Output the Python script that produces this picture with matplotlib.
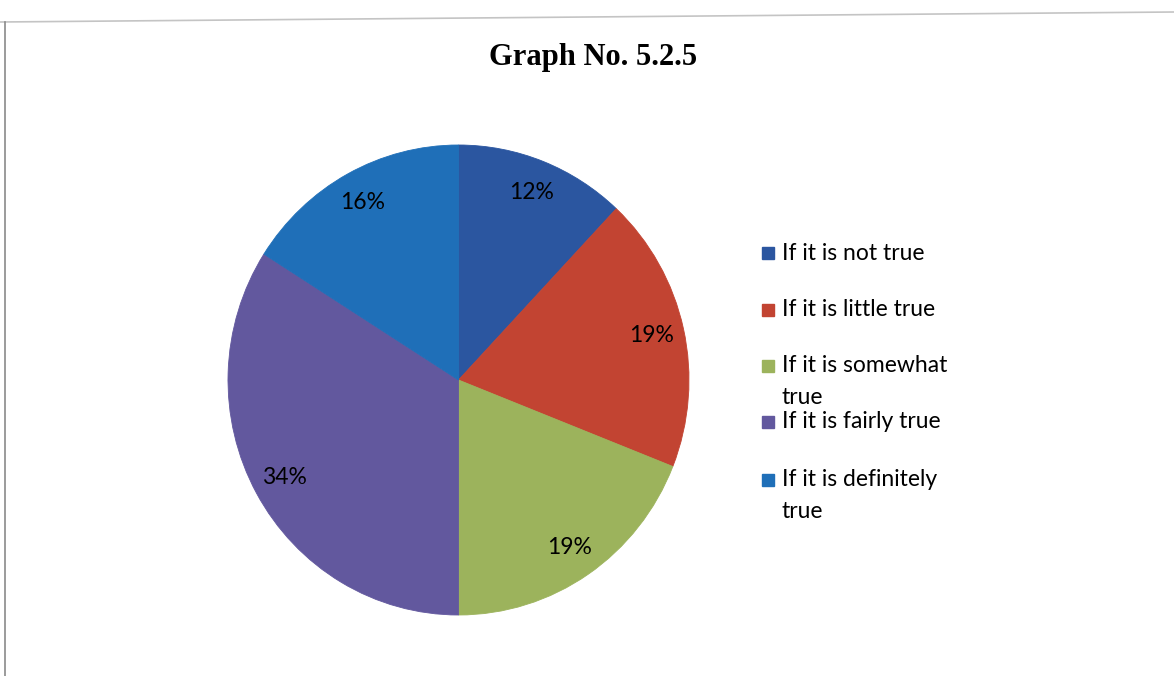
import matplotlib.pyplot as plt
import matplotlib
from matplotlib.patches import Rectangle
from matplotlib.lines import Line2D

matplotlib.rcParams.update({'font.family': 'Lato'})

labels = ['If it is not true', 'If it is little true', 'If it is somewhat\ntrue',
          'If it is fairly true', 'If it is definitely\ntrue']
shares = [12, 19, 19, 34, 16]
colors = ['#2B56A0', '#C24432', '#9CB35C', '#62589E', '#1F6FB8']

W, H = 1174, 676
fig = plt.figure(figsize=(W / 100, H / 100), dpi=100)

# page border from the scanned sheet
fig.add_artist(Line2D([0, 1], [1 - 22 / H, 1 - 12 / H], color='#c4c4c4', lw=1.2))
fig.add_artist(Line2D([5 / W, 5 / W], [0, 1 - 22 / H], color='#8a8a8a', lw=1.2))

fig.text(593 / W, 1 - 57 / H, 'Graph No. 5.2.5', ha='center', va='center',
         fontsize=22, fontweight='bold', family='Liberation Serif')

ax = fig.add_axes([228 / W, 1 - 615 / H, 461 / W, 470 / H])
wedges, texts, autotexts = ax.pie(shares, colors=colors, startangle=90, counterclock=False,
                                  autopct='%1.0f%%', pctdistance=0.86,
                                  wedgeprops=dict(linewidth=0.6),
                                  textprops=dict(fontsize=16.5, color='black'))
# edge in the wedge's own colour so no white seams show
for w in wedges:
    w.set_edgecolor(w.get_facecolor())
ax.set_aspect('auto')
ax.set_xlim(-1, 1)
ax.set_ylim(-1, 1)

# legend on the right; wrapped entries continue 32 px lower
rows = [253, 310, 366, 422, 480]
for lab, col, y in zip(labels, colors, rows):
    fig.add_artist(Rectangle((762 / W, 1 - (y + 6) / H), 12 / W, 12 / H,
                             transform=fig.transFigure, color=col))
    for i, line in enumerate(lab.split('\n')):
        fig.text(782 / W, 1 - (y + 32 * i) / H, line, ha='left', va='center',
                 fontsize=16.5)

fig.savefig('out.png', dpi=100)
plt.close()
